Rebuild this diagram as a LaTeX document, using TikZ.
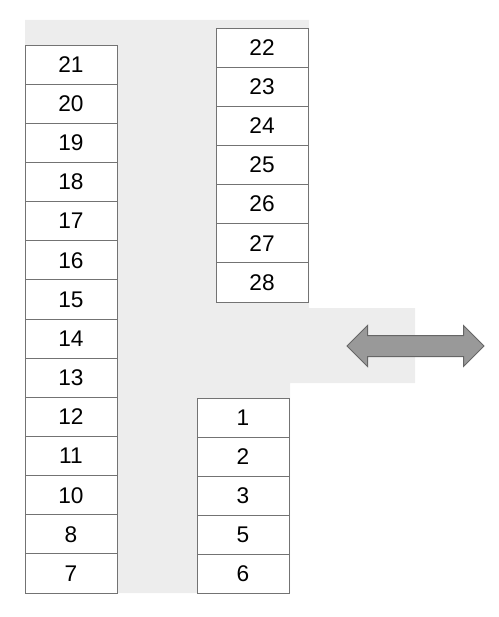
\documentclass[tikz,border=0pt]{standalone}
\usepackage{fontspec}
\setmainfont{Liberation Sans}
\usetikzlibrary{positioning, shapes.arrows}

\begin{document}
\begin{tikzpicture}[
    x=0.75pt, y=-0.75pt,
    node distance=0pt,
    cell/.style={rectangle, draw=black!55, fill=white, line width=0.75pt, minimum width=69pt, minimum height=29.36pt, inner sep=0pt, outer sep=0pt, font=\fontsize{17}{20}\selectfont},
]
\useasboundingbox (0,0) rectangle (499,617);

% shaded floor behind the rows
\fill[black!7] (25,20) -- (309,20) -- (309,308) -- (415,308) -- (415,383) -- (290,383) -- (290,593) -- (25,593) -- cycle;

% left row
\node[cell] (c21) at (71,64.6) {21};
\node[cell, below=of c21] (c20) {20};
\node[cell, below=of c20] (c19) {19};
\node[cell, below=of c19] (c18) {18};
\node[cell, below=of c18] (c17) {17};
\node[cell, below=of c17] (c16) {16};
\node[cell, below=of c16] (c15) {15};
\node[cell, below=of c15] (c14) {14};
\node[cell, below=of c14] (c13) {13};
\node[cell, below=of c13] (c12) {12};
\node[cell, below=of c12] (c11) {11};
\node[cell, below=of c11] (c10) {10};
\node[cell, below=of c10] (c8) {8};
\node[cell, below=of c8] (c7) {7};

% upper right row
\node[cell] (c22) at (262,47.6) {22};
\node[cell, below=of c22] (c23) {23};
\node[cell, below=of c23] (c24) {24};
\node[cell, below=of c24] (c25) {25};
\node[cell, below=of c25] (c26) {26};
\node[cell, below=of c26] (c27) {27};
\node[cell, below=of c27] (c28) {28};

% lower right row
\node[cell] (c1) at (243,417.6) {1};
\node[cell, below=of c1] (c2) {2};
\node[cell, below=of c2] (c3) {3};
\node[cell, below=of c3] (c5) {5};
\node[cell, below=of c5] (c6) {6};

% exit marker
\node[double arrow, draw=black!60, fill=black!40, line width=0.75pt, minimum height=102.75pt, double arrow head extend=7.5pt, inner xsep=0pt, inner ysep=7.5pt] (exit) at (415.5,346) {};

\end{tikzpicture}
\end{document}
